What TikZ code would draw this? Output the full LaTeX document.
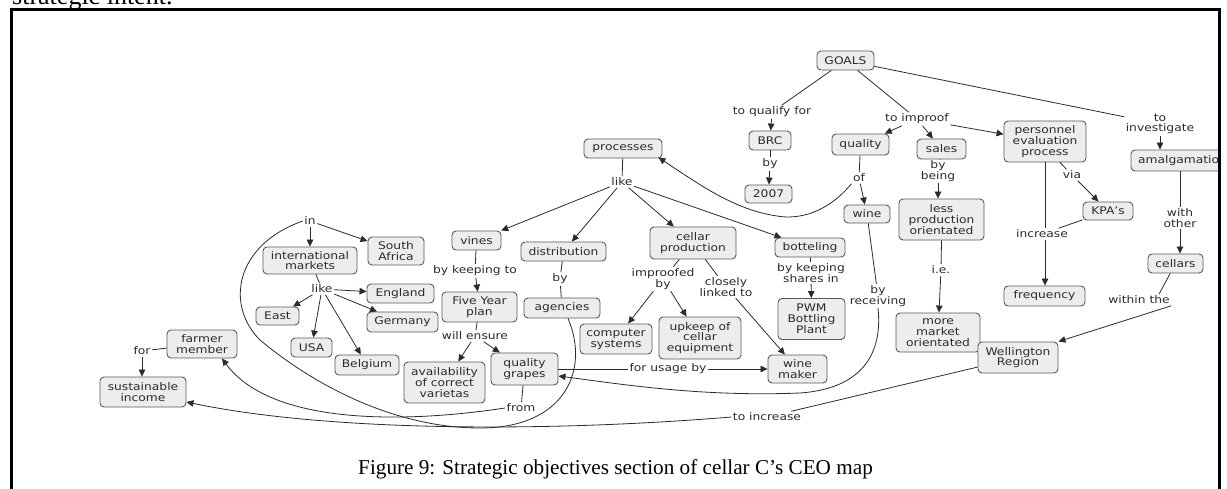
\documentclass[tikz,border=0pt]{standalone}
\usepackage{fontspec}
\setmainfont{Liberation Serif}
\newfontfamily\mapfont[FakeStretch=1.17]{DejaVu Sans}
\usetikzlibrary{arrows.meta}

\definecolor{boxfill}{HTML}{EDEDED}
\definecolor{boxline}{HTML}{5A5A5A}
\definecolor{ink}{HTML}{2B2B2B}

\tikzset{
  mapfontsize/.style={font=\mapfont\fontsize{10.5}{10.8}\selectfont},
  concept/.style={draw=boxline, fill=boxfill, rounded corners=4pt, line width=0.9pt,
                  mapfontsize, text=ink, align=center, inner sep=0pt},
  sz/.style 2 args={minimum width=#1pt, minimum height=#2pt},
  link/.style={mapfontsize, text=ink, align=center, inner sep=1.5pt},
  conn/.style={draw=ink, line width=0.8pt},
  arr/.style={conn, -{Triangle[length=7pt,width=6.5pt]}},
}

\begin{document}
\begin{tikzpicture}[x=1pt, y=-1pt]
\useasboundingbox (0,0) rectangle (1227,488);

% running text above the figure frame
\node[anchor=base west, inner sep=0pt, font=\fontsize{26}{28}\selectfont] (intro) at (12,4) {strategic intent.};

\begin{scope}
\clip (12,10) rectangle (1218.2,488);

% ---------- concepts ----------
\node[concept, sz={57}{19}] (goals) at (845.5,60.5) {GOALS};
\node[concept, sz={42}{19}] (brc) at (770,140.5) {BRC};
\node[concept, sz={47}{18}] (y2007) at (768.5,194) {2007};
\node[concept, sz={78}{19}] (processes) at (623,148.5) {processes};
\node[concept, sz={57}{21}] (quality) at (860.5,144.5) {quality};
\node[concept, sz={49}{20}] (sales) at (941.5,149) {sales};
\node[concept, sz={82}{41}] (personnel) at (1045,141.5) {personnel\\evaluation\\process};
\node[concept, sz={103}{21}] (amalg) at (1182.5,160.5) {amalgamation};
\node[concept, sz={46}{18}] (wine) at (867,214) {wine};
\node[concept, sz={85}{41}] (lessprod) at (941.5,219.5) {less\\production\\orientated};
\node[concept, sz={50}{18}] (kpa) at (1108,211) {KPA’s};
\node[concept, sz={55}{19}] (cellars) at (1175.5,263.5) {cellars};
\node[concept, sz={81}{20}] (frequency) at (1044.5,296) {frequency};
\node[concept, sz={84}{39}] (moremarket) at (938,332.5) {more\\market\\orientated};
\node[concept, sz={80}{31}] (wellington) at (1018,357.5) {Wellington\\Region};
\node[concept, sz={49}{19}] (vines) at (476.5,240.5) {vines};
\node[concept, sz={85}{19}] (distribution) at (563.5,251.5) {distribution};
\node[concept, sz={86}{32}] (cellarprod) at (693,243) {cellar\\production};
\node[concept, sz={70}{19}] (botteling) at (810,247.5) {botteling};
\node[concept, sz={75}{30}] (fiveyear) at (479.5,307) {Five Year\\plan};
\node[concept, sz={76}{20}] (agencies) at (562,308) {agencies};
\node[concept, sz={72}{30}] (computer) at (616,339) {computer\\systems};
\node[concept, sz={82}{42}] (upkeep) at (700,338) {upkeep of\\cellar\\equipment};
\node[concept, sz={67}{41}] (pwm) at (811.5,319) {PWM\\Bottling\\Plant};
\node[concept, sz={59}{28}] (winemaker) at (797.5,369) {wine\\maker};
\node[concept, sz={67}{32}] (qgrapes) at (524.5,369) {quality\\grapes};
\node[concept, sz={81}{41}] (availability) at (444.5,382.5) {availability\\of correct\\varietas};
\node[concept, sz={94}{27}] (intl) at (310,260.5) {international\\markets};
\node[concept, sz={56}{28}] (southafrica) at (396,251) {South\\Africa};
\node[concept, sz={67}{19}] (england) at (400.5,293.5) {England};
\node[concept, sz={71}{20}] (germany) at (402.5,322) {Germany};
\node[concept, sz={43}{18}] (east) at (277.5,316) {East};
\node[concept, sz={41}{19}] (usa) at (311.5,347.5) {USA};
\node[concept, sz={64}{20}] (belgium) at (367,365) {Belgium};
\node[concept, sz={70}{28}] (farmer) at (202,344) {farmer\\member};
\node[concept, sz={86}{30}] (sustainable) at (143,392) {sustainable\\income};

% ---------- linking phrases ----------
\node[link] (toqualify) at (772,112) {to qualify for};
\node[link] (bybrc) at (770,164) {by};
\node[link] (toimproof) at (917,119) {to improof};
\node[link] (toinvestigate) at (1160,124) {to\\investigate};
\node[link] (bybeing) at (938,171) {by\\being};
\node[link] (of) at (859,178) {of};
\node[link] (via) at (1072,175) {via};
\node[link] (ie) at (941,270) {i.e.};
\node[link] (increase) at (1042,234) {increase};
\node[link] (withother) at (1180,218) {with\\other};
\node[link] (within) at (1139,300) {within the};
\node[link] (byreceiving) at (878,296) {by\\receiving};
\node[link] (likeproc) at (622,182) {like};
\node[link] (bykeepingto) at (475,271) {by keeping to};
\node[link] (bydist) at (560,279) {by};
\node[link] (improofed) at (663,279) {improofed\\by};
\node[link] (closely) at (726,287) {closely\\linked to};
\node[link] (keepingshares) at (811,273) {by keeping\\shares in};
\node[link] (willensure) at (475,336) {will ensure};
\node[link] (forusage) at (668,369) {for usage by};
\node[link] (from) at (521,408) {from};
\node[link] (toincrease) at (767,417) {to increase};
\node[link] (in) at (310,221) {in};
\node[link] (likeintl) at (322,289) {like};
\node[link] (for) at (142,351) {for};

% ---------- connectors ----------
\draw[conn] (goals) -- (toqualify);
\draw[arr] (toqualify) -- (brc);
\draw[conn] (brc) -- (bybrc);
\draw[arr] (bybrc) -- (y2007);

\draw[conn] (goals) -- (toimproof);
\draw[arr] (toimproof) -- (quality);
\draw[arr] (toimproof) -- (sales);
\draw[arr] (toimproof) -- (personnel);

\draw[conn] (goals) -- (toinvestigate);
\draw[arr] (toinvestigate) -- (toinvestigate |- amalg.north);

\draw[conn] (quality) -- (of);
\draw[arr] (of) -- (wine);
\draw[arr] (of.south west) .. controls (828,212) and (800,220) .. (777,216)
                           .. controls (735,210) and (700,185) .. ([xshift=-4pt,yshift=1pt]processes.south east);

\draw[conn] (sales) -- (bybeing);
\draw[arr] (bybeing) -- (bybeing |- lessprod.north);
\draw[conn] (lessprod.south) -- (ie);
\draw[arr] (ie) -- (moremarket);

\draw[conn] ([xshift=15pt]personnel.south) -- (via);
\draw[arr] (via) -- (kpa);
\draw[conn] (personnel.south) -- (increase.north -| personnel.south);
\draw[conn] (kpa) -- (increase);
\draw[arr] (increase.south -| personnel.south) -- (frequency.north -| personnel.south);

\draw[conn] (amalg.south -| withother) -- (withother);
\draw[arr] (withother) -- (withother |- cellars.north);
\draw[conn] (cellars) -- ([xshift=20pt]within.north);
\draw[arr] (within.south east) -- (wellington.north east);

\draw[conn] (wellington) -- (toincrease);
\draw[arr] (toincrease.west) .. controls (550,432) and (330,432) .. ([yshift=-10pt]sustainable.east);

\draw[conn] (wine) -- (byreceiving);
\draw[arr] (byreceiving.south) .. controls (882,345) and (870,388) .. (800,393)
                               .. controls (700,397) and (620,384) .. ([yshift=-7pt]qgrapes.east);

\draw[conn] (processes) -- (likeproc);
\draw[arr] (likeproc) -- (vines);
\draw[arr] (likeproc) -- (distribution);
\draw[arr] (likeproc) -- (cellarprod);
\draw[arr] (likeproc) -- (botteling);

\draw[conn] (vines) -- (bykeepingto);
\draw[arr] (bykeepingto) -- (fiveyear);
\draw[conn] (distribution) -- (bydist);
\draw[conn] (bydist) -- (agencies);
\draw[conn] ([xshift=6pt]agencies.south) .. controls (590,370) and (565,428) .. (480,428)
                                         .. controls (400,428) and (320,390) .. (260,340)
                                         .. controls (225,305) and (235,245) .. (in.west);

\draw[arr] (in) -- (intl);
\draw[arr] (in) -- (southafrica);
\draw[conn] (intl) -- (likeintl);
\draw[arr] (likeintl) -- (east);
\draw[arr] (likeintl) -- (usa);
\draw[arr] (likeintl) -- (england);
\draw[arr] (likeintl) -- (germany);
\draw[arr] (likeintl) -- (belgium);

\draw[conn] (cellarprod) -- (improofed);
\draw[arr] (improofed) -- (computer);
\draw[arr] (improofed) -- (upkeep);
\draw[conn] (cellarprod) -- (closely);
\draw[arr] (closely) -- (winemaker);

\draw[conn] (botteling) -- (keepingshares);
\draw[arr] (keepingshares) -- (pwm);

\draw[conn] (fiveyear) -- (willensure);
\draw[arr] (willensure) -- (availability);
\draw[arr] (willensure) -- (qgrapes);

\draw[conn] (qgrapes) -- (forusage);
\draw[arr] (forusage) -- (winemaker);
\draw[conn] (qgrapes) -- (from);
\draw[arr] (from.west) .. controls (400,424) and (270,424) .. ([xshift=20pt]farmer.south);

\draw[conn] (farmer) -- (for);
\draw[arr] (for) -- (for |- sustainable.north);
\end{scope}

% figure frame (open at the bottom)
\draw[line width=2.2pt] (11.5,600) -- (11.5,9.5) -- (1219.5,9.5) -- (1219.5,600);

% caption
\node[anchor=base, inner sep=0pt, font=\fontsize{21.2}{24}\selectfont] (caption) at (615.5,474)
  {Figure 9: Strategic objectives section of cellar C’s CEO map};
\end{tikzpicture}
\end{document}
